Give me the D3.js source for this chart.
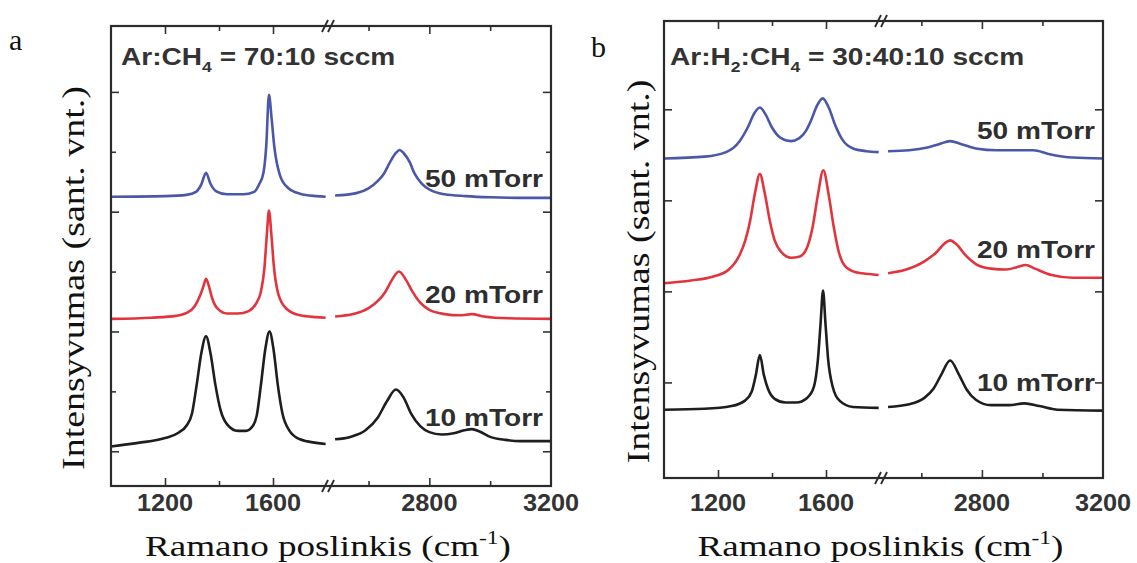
<!DOCTYPE html>
<html>
<head>
<meta charset="utf-8">
<script src="https://cdn.jsdelivr.net/npm/d3@7"></script>
<style>
body { margin: 0; background: #fff; }
svg { display: block; }
</style>
</head>
<body>
<script>
// tick values on the broken wavenumber axis
var xMajor = [1200, 1600, 2800, 3200];
var xMinor = [1400, 2600, 3000];

var pressures = ["50 mTorr", "20 mTorr", "10 mTorr"];
var lineColors = ["#4b57a8", "#e2343d", "#1e1e1e"];

// panel a, Ar:CH4 = 70:10 sccm  [wavenumber, intensity (a.u.)]
var a50 = [[1000,4.25],[1200,4.26],[1280,4.28],[1315,4.33],[1335,4.46],[1352,4.65],[1368,4.47],[1390,4.34],[1430,4.29],[1490,4.29],[1530,4.33],[1548,4.45],[1565,4.66],[1575,5.1],[1585,5.95],[1595,5.55],[1605,5.08],[1625,4.62],[1655,4.4],[1700,4.3],[1760,4.26],[1795,4.25],
  [2490,4.27],[2560,4.31],[2600,4.39],[2630,4.51],[2650,4.63],[2672,4.84],[2690,4.98],[2702,5.03],[2715,4.98],[2735,4.83],[2752,4.63],[2775,4.47],[2800,4.37],[2850,4.29],[2920,4.26],[3000,4.24],[3100,4.23],[3200,4.23]];
var a20 = [[1000,2.21],[1150,2.23],[1240,2.26],[1280,2.31],[1310,2.42],[1330,2.6],[1342,2.75],[1352,2.88],[1363,2.75],[1375,2.55],[1395,2.38],[1430,2.3],[1470,2.3],[1510,2.34],[1535,2.45],[1555,2.66],[1568,3.05],[1577,3.6],[1585,4.02],[1594,3.62],[1603,3.1],[1620,2.62],[1650,2.38],[1700,2.27],[1760,2.24],[1795,2.23],
  [2490,2.25],[2550,2.29],[2600,2.39],[2635,2.53],[2655,2.66],[2678,2.87],[2700,3.0],[2722,2.87],[2745,2.66],[2770,2.48],[2800,2.36],[2850,2.29],[2900,2.27],[2940,2.29],[2980,2.25],[3060,2.22],[3200,2.21]];
var a10 = [[1000,0.08],[1100,0.14],[1200,0.22],[1250,0.31],[1280,0.43],[1300,0.63],[1317,1.1],[1335,1.65],[1352,1.92],[1368,1.65],[1387,1.1],[1405,0.7],[1430,0.45],[1470,0.34],[1500,0.34],[1525,0.42],[1540,0.6],[1555,1.1],[1572,1.72],[1587,2.0],[1602,1.7],[1618,1.1],[1635,0.63],[1660,0.35],[1700,0.2],[1760,0.14],[1795,0.12],
  [2490,0.2],[2540,0.24],[2590,0.35],[2630,0.56],[2660,0.83],[2690,1.03],[2715,0.9],[2740,0.63],[2770,0.42],[2800,0.32],[2840,0.28],[2880,0.3],[2915,0.35],[2940,0.37],[2965,0.33],[3000,0.24],[3050,0.19],[3100,0.17],[3200,0.17]];

// panel b, Ar:H2:CH4 = 30:40:10 sccm
var b50 = [[1000,2.46],[1150,2.48],[1230,2.53],[1280,2.65],[1310,2.8],[1335,2.96],[1355,3.02],[1375,2.95],[1400,2.8],[1430,2.69],[1470,2.65],[1500,2.68],[1525,2.76],[1545,2.88],[1565,3.03],[1588,3.12],[1610,3.02],[1635,2.82],[1660,2.67],[1700,2.57],[1750,2.54],[1795,2.53],
  [2490,2.54],[2560,2.55],[2620,2.58],[2660,2.62],[2695,2.65],[2730,2.62],[2780,2.57],[2850,2.55],[2920,2.55],[2970,2.55],[3020,2.51],[3100,2.47],[3200,2.46]];
var b20 = [[1000,1.09],[1100,1.12],[1180,1.16],[1240,1.24],[1280,1.4],[1300,1.55],[1318,1.76],[1337,2.08],[1355,2.29],[1373,2.08],[1393,1.76],[1410,1.56],[1435,1.43],[1470,1.37],[1500,1.38],[1525,1.45],[1550,1.7],[1570,2.06],[1590,2.33],[1610,2.06],[1628,1.72],[1645,1.46],[1670,1.28],[1710,1.21],[1760,1.19],[1795,1.18],
  [2490,1.2],[2550,1.24],[2610,1.33],[2650,1.43],[2678,1.53],[2695,1.56],[2715,1.52],[2745,1.4],[2780,1.3],[2830,1.25],[2880,1.24],[2920,1.27],[2945,1.29],[2975,1.25],[3030,1.18],[3100,1.15],[3200,1.15]];
var b10 = [[1000,-0.3],[1150,-0.29],[1250,-0.26],[1300,-0.2],[1325,-0.1],[1340,0.08],[1355,0.3],[1370,0.08],[1385,-0.07],[1410,-0.18],[1450,-0.22],[1490,-0.22],[1530,-0.17],[1555,-0.05],[1570,0.25],[1580,0.65],[1589,1.01],[1598,0.65],[1608,0.25],[1625,-0.05],[1650,-0.2],[1700,-0.27],[1795,-0.28],
  [2490,-0.27],[2560,-0.24],[2610,-0.17],[2640,-0.07],[2665,0.08],[2695,0.24],[2725,0.08],[2750,-0.08],[2780,-0.19],[2830,-0.25],[2890,-0.25],[2940,-0.23],[2990,-0.26],[3050,-0.3],[3200,-0.31]];

var panels = [
  {letter: "a", left: 111, top: 26, width: 440, height: 460, yDomain: [-0.58, 7.1],
   yMajor: [0, 2, 4, 6], yMinor: [1, 3, 5], series: [a50, a20, a10], labelY: [4.57, 2.62, 0.57],
   gas: ["Ar:CH", "4", " = 70:10 sccm"]},
  {letter: "b", left: 664, top: 21, width: 439, height: 457, yDomain: [-1.05, 3.97],
   yMajor: [0, 1, 2, 3], yMinor: [], series: [b50, b20, b10], labelY: [2.77, 1.47, 0.0],
   gas: ["Ar:H", "2", ":CH", "4", " = 30:40:10 sccm"]}
];

var svg = d3.select("body").append("svg")
    .attr("width", 1137)
    .attr("height", 563);

svg.append("rect").attr("width", 1137).attr("height", 563).attr("fill", "#fff");

var sans = "'Liberation Sans', Arial, sans-serif";
var serif = "'Liberation Serif', 'Times New Roman', serif";
var stretch = "scale(1.17,1)";

panels.forEach(function(p) {

  var x = d3.scaleLinear()
      .domain([1000, 1800, 2470, 3200])
      .range([0, 216, 218, p.width]);
  var y = d3.scaleLinear()
      .domain(p.yDomain)
      .range([p.height, 0]);

  var g = svg.append("g")
      .attr("transform", "translate(" + p.left + "," + p.top + ")");

  // curves, split at the axis break
  var line = d3.line()
      .x(function(d) { return x(d[0]); })
      .y(function(d) { return y(d[1]); })
      .curve(d3.curveMonotoneX);

  p.series.forEach(function(s, i) {
    var parts = [s.filter(function(d) { return d[0] <= 1800; }),
                 s.filter(function(d) { return d[0] >= 2470; })];
    parts.forEach(function(part) {
      g.append("path")
        .attr("d", line(part))
        .attr("fill", "none")
        .attr("stroke", lineColors[i])
        .attr("stroke-width", 2.6)
        .attr("stroke-linejoin", "round");
    });
  });

  // ticks, all pointing inwards
  function ticks(axis, size, values, transform) {
    var a = g.append("g")
      .attr("transform", transform)
      .call(axis.tickValues(values).tickSize(-size).tickFormat(""));
    a.select(".domain").remove();
    a.selectAll("line").attr("stroke", "#333").attr("stroke-width", 1.6);
  }
  ticks(d3.axisBottom(x), 8, xMajor.slice(0, 3), "translate(0," + p.height + ")");
  ticks(d3.axisBottom(x), 5, xMinor, "translate(0," + p.height + ")");
  ticks(d3.axisTop(x), 8, xMajor.slice(0, 3), "translate(0,0)");
  ticks(d3.axisTop(x), 5, xMinor, "translate(0,0)");
  ticks(d3.axisLeft(y), 8, p.yMajor, "translate(0,0)");
  ticks(d3.axisLeft(y), 5, p.yMinor, "translate(0,0)");
  ticks(d3.axisRight(y), 8, p.yMajor, "translate(" + p.width + ",0)");
  ticks(d3.axisRight(y), 5, p.yMinor, "translate(" + p.width + ",0)");

  g.append("rect")
    .attr("width", p.width)
    .attr("height", p.height)
    .attr("fill", "none")
    .attr("stroke", "#2b2b2b")
    .attr("stroke-width", 2.2);

  // break marks //
  var bx = (x(1800) + x(2470)) / 2;
  [0, p.height].forEach(function(yy) {
    [-3, 3].forEach(function(off) {
      g.append("line")
        .attr("x1", bx + off - 3).attr("y1", yy + 6)
        .attr("x2", bx + off + 3).attr("y2", yy - 6)
        .attr("stroke", "#2b2b2b").attr("stroke-width", 1.8);
    });
  });

  // tick labels
  xMajor.forEach(function(v) {
    g.append("text")
      .attr("transform", "translate(" + x(v) + "," + (511 - p.top) + ") scale(1.1,1)")
      .attr("text-anchor", "middle")
      .attr("font-family", sans)
      .attr("font-weight", "bold")
      .attr("font-size", 23)
      .attr("fill", "#333")
      .text(v);
  });

  // pressure labels
  pressures.forEach(function(t, i) {
    g.append("text")
      .attr("transform", "translate(" + (p.width - 8) + "," + (y(p.labelY[i]) + 9) + ") " + stretch)
      .attr("text-anchor", "end")
      .attr("font-family", sans)
      .attr("font-weight", "bold")
      .attr("font-size", 24)
      .attr("fill", "#2e2e2e")
      .text(t);
  });

  // gas ratio
  var gt = g.append("text")
    .attr("transform", "translate(" + (p.letter == "a" ? 10 : 6) + "," + (p.letter == "a" ? 39 : 44) + ") " + stretch)
    .attr("font-family", sans)
    .attr("font-weight", "bold")
    .attr("font-size", 24)
    .attr("fill", "#333");
  p.gas.forEach(function(t, i) {
    var sub = (i % 2 == 1);
    gt.append("tspan")
      .attr("font-size", sub ? 15 : 24)
      .attr("dy", sub ? 7 : (i > 0 ? -7 : 0))
      .text(t);
  });

  // axis titles
  var xt = svg.append("text")
    .attr("x", p.left + p.width / 2 - 3)
    .attr("y", 556)
    .attr("text-anchor", "middle")
    .attr("font-family", serif)
    .attr("font-size", 30)
    .attr("fill", "#111")
    .attr("textLength", 366)
    .attr("lengthAdjust", "spacingAndGlyphs");
  xt.append("tspan").text("Ramano poslinkis (cm");
  xt.append("tspan").attr("font-size", 19).attr("dy", -12).text("-1");
  xt.append("tspan").attr("dy", 12).text(")");

  svg.append("text")
    .attr("transform", "translate(" + (p.left - (p.letter == "a" ? 27 : 15)) + "," + (p.top + p.height / 2 + 22) + ") rotate(-90)")
    .attr("text-anchor", "middle")
    .attr("font-family", serif)
    .attr("font-size", 31)
    .attr("fill", "#111")
    .attr("textLength", 384)
    .attr("lengthAdjust", "spacingAndGlyphs")
    .text("Intensyvumas (sant. vnt.)");

  svg.append("text")
    .attr("x", p.letter == "a" ? 9 : 591)
    .attr("y", p.letter == "a" ? 50 : 57)
    .attr("font-family", serif)
    .attr("font-size", 30)
    .attr("fill", "#111")
    .text(p.letter);
});
</script>
</body>
</html>
